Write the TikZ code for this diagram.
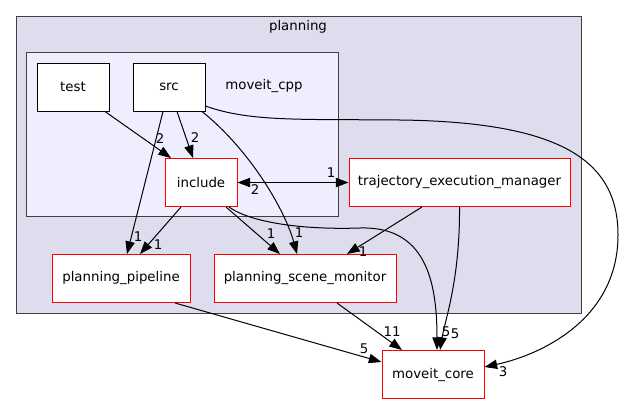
\documentclass[tikz,border=0pt]{standalone}
\usepackage{fontspec}
\setmainfont{DejaVu Sans}
\usetikzlibrary{calc,positioning,arrows.meta}
\definecolor{outerfill}{HTML}{DDDDEE}
\definecolor{innerfill}{HTML}{EEEEFF}
\tikzset{
  dirbox/.style={draw=black,fill=white,line width=0.75pt,inner sep=0pt,minimum height=36pt},
  pkgbox/.style={draw=red,fill=white,line width=0.75pt,inner sep=0pt,minimum height=36pt},
  lbl/.style={inner sep=0pt},
  dep/.style={->,line width=0.75pt}
}
\begin{document}
\begin{tikzpicture}[x=0.75pt,y=-0.75pt,font=\fontsize{10}{12}\selectfont,>={Triangle[length=9.5pt,width=7pt]}]
\useasboundingbox (0,0) rectangle (624,404);
% clusters
\draw[fill=outerfill,draw=black!75,line width=0.75pt] (16,16) rectangle (581,313);
\node[lbl] (planning) at (298,27) {planning};
\draw[fill=innerfill,draw=black!75,line width=0.75pt] (26.5,52) rectangle (338,216.5);
\node[lbl] (moveitcpp) at (264,86) {moveit\_cpp};
% directories
\node[dirbox,minimum width=54pt] (test) at (73,87) {test};
\node[dirbox,minimum width=54pt] (src) at (169,87) {src};
\node[pkgbox,minimum width=54pt] (incl) at (201,182.5) {include};
\node[pkgbox,minimum width=165.75pt] (tem) at (459.5,182.5) {trajectory\_execution\_manager};
\node[pkgbox,minimum width=103.5pt] (pipeline) at (121,278.5) {planning\_pipeline};
\node[pkgbox,minimum width=136.5pt] (psm) at (305,278.5) {planning\_scene\_monitor};
\node[pkgbox,minimum width=76.5pt] (core) at (433,374.5) {moveit\_core};
% dependencies
\draw[dep] ($(test.south)+(32,0)$) -- ($(incl.north)+(-30,0)$);
\draw[dep] ($(src.south)+(8,0)$) -- ($(incl.north)+(-8,0)$);
\draw[dep] ($(src.south)+(-6,0)$) -- ($(pipeline.north)+(6,0)$);
\draw[dep] ($(src.south)+(33,0)$) .. controls (250,150) and (285,210) .. ($(psm.north)+(-8,0)$);
\draw[dep] ($(src.east)+(0,19)$) .. controls (250,122) and (300,119) .. (400,120)
  .. controls (560,122) and (618,160) .. (618,235)
  .. controls (618,320) and (540,355) .. ($(core.east)+(0,-7.5)$);
\draw[dep] ($(incl.south)+(-20,0)$) -- ($(pipeline.north)+(19,0)$);
\draw[dep] ($(incl.south)+(25,0)$) -- ($(psm.north)+(-25,0)$);
\draw[dep] ($(incl.south)+(28,0)$) .. controls (250,222) and (300,230) .. (360,228)
  .. controls (425,226) and (437,280) .. ($(core.north)+(4,0)$);
\draw[dep,<->] (incl.east) -- (tem.west);
\draw[dep] ($(tem.south)+(-37.5,0)$) -- ($(psm.north)+(42,0)$);
\draw[dep] (tem.south) .. controls (460,280) and (445,320) .. ($(core.north)+(7,0)$);
\draw[dep] ($(pipeline.south)+(54,0)$) -- ($(core.west)+(0,-12.5)$);
\draw[dep] ($(psm.south)+(32,0)$) -- ($(core.north)+(-31,0)$);
% edge labels
\node[lbl] (ltestincl) at (160,139) {2};
\node[lbl] (lsrcincl) at (195,138) {2};
\node[lbl] (lsrcpipe) at (138,237) {1};
\node[lbl] (lsrcpsm) at (299,233) {1};
\node[lbl] (linclpipe) at (158,245) {1};
\node[lbl] (linclpsm) at (271,234) {1};
\node[lbl] (linclcore) at (446,332) {5};
\node[lbl] (lincltem) at (331,173) {1};
\node[lbl] (ltemincl) at (255,190) {2};
\node[lbl] (ltempsm) at (363,252) {1};
\node[lbl] (ltemcore) at (455,334) {5};
\node[lbl] (lpipecore) at (364,349) {5};
\node[lbl] (lpsmcore) at (392,332) {11};
\node[lbl] (lsrccore) at (503,372) {3};
\end{tikzpicture}
\end{document}
